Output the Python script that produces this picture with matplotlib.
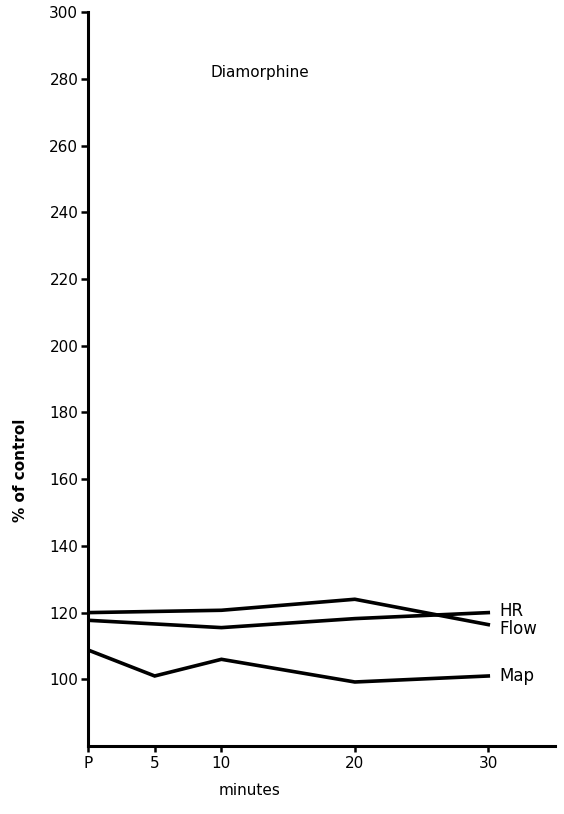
import matplotlib
matplotlib.use("Agg")
import matplotlib.pyplot as plt

minutes = [0, 5, 10, 20, 30]
xtick_labels = ["P", "5", "10", "20", "30"]
hr = [117.7, None, 115.5, 118.2, 120.0]
flow = [120.0, None, 120.7, 124.0, 116.4]
map_ = [108.8, 101.0, 106.0, 99.2, 101.0]
yticks = [100, 120, 140, 160, 180, 200, 220, 240, 260, 280, 300]

def pairs(xs, ys):
    px = [x for x, y in zip(xs, ys) if y is not None]
    py = [y for y in ys if y is not None]
    return px, py

plt.rcParams['font.family'] = ['DejaVu Sans']
fig = plt.figure(figsize=(5.64, 8.14), dpi=100)
ax = fig.add_axes([0.156, 0.0835, 0.828, 0.9015])

for series in (hr, flow, map_):
    px, py = pairs(minutes, series)
    ax.plot(px, py, color='black', lw=2.6, solid_joinstyle='miter')

ax.set_xlim(0, 35)
ax.set_ylim(80, 300)
ax.set_yticks(yticks)
ax.set_yticklabels([str(t) for t in yticks], fontsize=11)
ax.set_xticks(minutes)
ax.set_xticklabels(xtick_labels, fontsize=11)
for s in ('top', 'right'):
    ax.spines[s].set_visible(False)
for s in ('left', 'bottom'):
    ax.spines[s].set_linewidth(2.2)
ax.tick_params(axis='y', direction='out', length=5, width=1.8, pad=2)
ax.tick_params(axis='x', direction='out', length=4, width=1.8, pad=3)

ax.text(30.8, hr[-1] + 0.6, "HR", fontsize=12, va='center', ha='left')
ax.text(30.8, flow[-1] - 1.3, "Flow", fontsize=12, va='center', ha='left')
ax.text(30.8, map_[-1], "Map", fontsize=12, va='center', ha='left')
ax.text(9.2, 282, "Diamorphine", fontsize=11, va='center', ha='left')

ax.set_xlabel("minutes", fontsize=11)
ax.xaxis.set_label_coords(0.347, -0.05)
ax.set_ylabel("% of control", fontsize=11, fontweight='bold')
ax.yaxis.set_label_coords(-0.128, 0.376)

fig.savefig("out.png", dpi=100)
